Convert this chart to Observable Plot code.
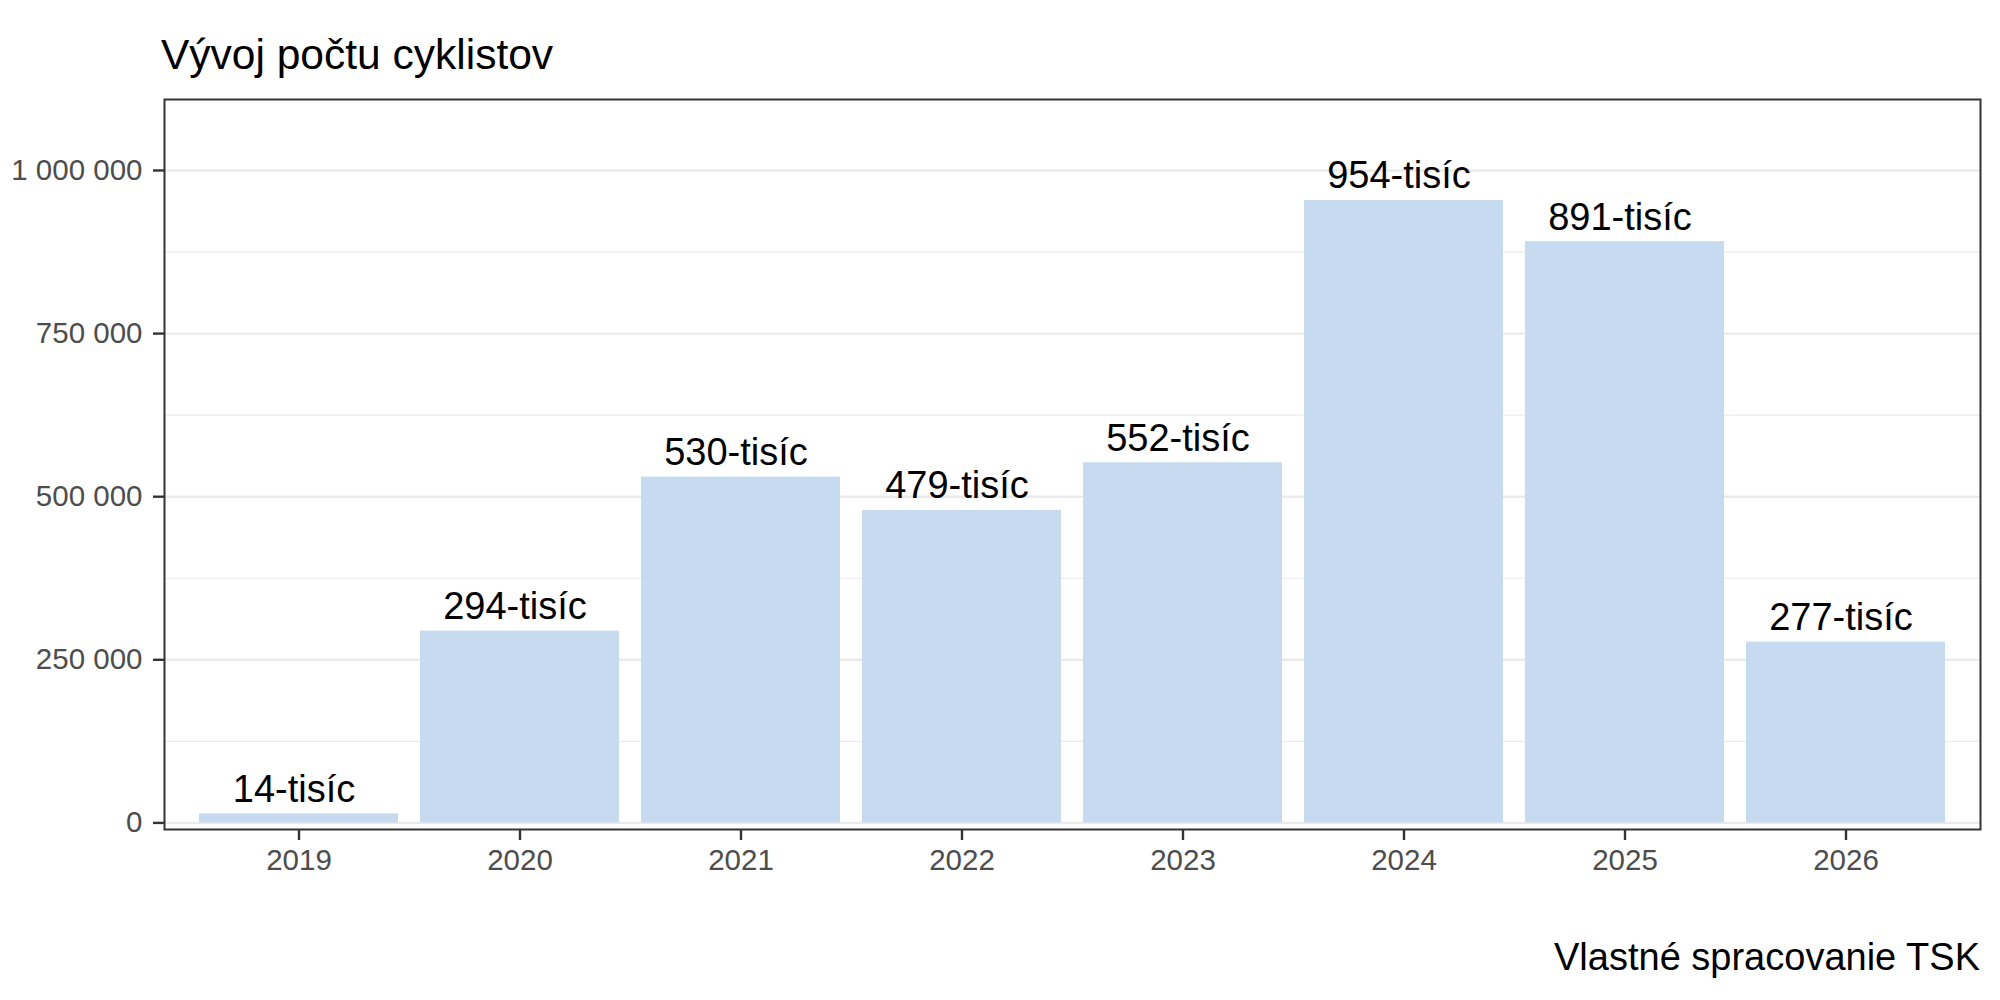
<!DOCTYPE html>
<html>
<head>
<meta charset="utf-8">
<script src="https://cdn.jsdelivr.net/npm/d3@7"></script>
<script src="https://cdn.jsdelivr.net/npm/@observablehq/plot@0.6"></script>
<style>
  html, body { margin: 0; padding: 0; background: #fff; }
  #wrap { position: relative; width: 2000px; height: 1000px; font-family: "Liberation Sans", Arial, sans-serif; }
  #title { position: absolute; left: 161px; top: 34px; font-size: 42.5px; line-height: 42.5px; color: #000; white-space: nowrap; }
  #caption { position: absolute; right: 20px; top: 938px; font-size: 38px; line-height: 38px; color: #000; white-space: nowrap; }
  #chart { position: absolute; left: 0; top: 80px; }
</style>
</head>
<body>
<div id="wrap">
  <div id="title">Vývoj počtu cyklistov</div>
  <div id="chart"></div>
  <div id="caption">Vlastné spracovanie TSK</div>
</div>
<script>
const years = ["2019", "2020", "2021", "2022", "2023", "2024", "2025", "2026"];
const counts = [14000, 294000, 530000, 479000, 552000, 954000, 891000, 277000];
const labels = ["14-tisíc", "294-tisíc", "530-tisíc", "479-tisíc", "552-tisíc", "954-tisíc", "891-tisíc", "277-tisíc"];
const majorTicks = [0, 250000, 500000, 750000, 1000000];
const minorTicks = [125000, 375000, 625000, 875000];

const data = years.map((y, i) => ({year: y, count: counts[i], label: labels[i]}));
const fmt = v => d3.format(",")(v).replace(/,/g, " ");

const plot = Plot.plot({
  width: 2000,
  height: 820,
  marginLeft: 164,
  marginRight: 20,
  marginTop: 19,
  marginBottom: 71,
  style: {fontFamily: "'Liberation Sans', Arial, sans-serif", background: "#fff"},
  x: {type: "band", domain: years, paddingInner: 0.1, paddingOuter: 0.15, axis: null},
  y: {domain: [-10100, 1108800], axis: null},
  marks: [
    Plot.ruleY(minorTicks, {stroke: "#ebebeb", strokeWidth: 1.2}),
    Plot.ruleY(majorTicks, {stroke: "#ebebeb", strokeWidth: 2.4}),
    Plot.barY(data, {x: "year", y: "count", fill: "#c6dbef"}),
    Plot.text(data, {x: "year", y: "count", text: "label", lineAnchor: "bottom", dy: -12, dx: -5, fontSize: 38, fill: "#000"}),
    Plot.frame({stroke: "#333", strokeWidth: 2}),
    Plot.axisY({ticks: majorTicks, tickFormat: fmt, label: null, tickSize: 11, tickPadding: 11, fontSize: 29.5, fill: "#4d4d4d", stroke: "#333", strokeWidth: 2.4}),
    Plot.axisX({label: null, tickSize: 11, tickPadding: 9, fontSize: 29.5, fill: "#4d4d4d", stroke: "#333", strokeWidth: 2.4})
  ]
});
document.getElementById("chart").appendChild(plot);
</script>
</body>
</html>
